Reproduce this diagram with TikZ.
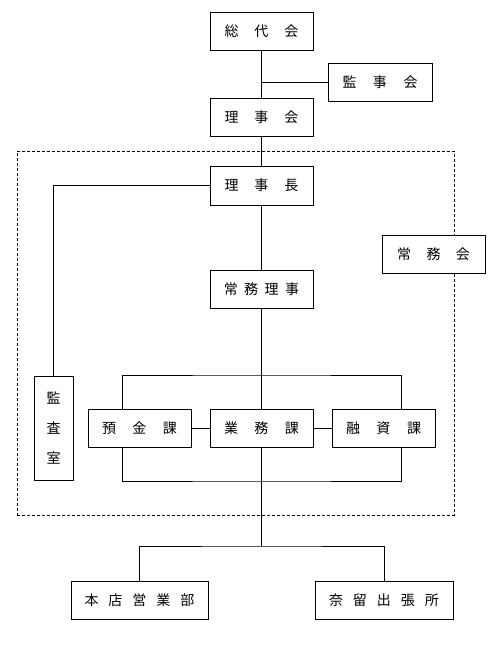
\documentclass[tikz,border=0pt]{standalone}
\usepackage{fontspec}
\setmainfont{Noto Sans CJK JP}
\newcommand{\gp}[1]{\hspace{#1pt}}
\tikzset{
  box/.style={draw, line width=1pt, fill=white, minimum width=103pt, minimum height=38pt, inner sep=0pt, font=\fontsize{14}{16}\selectfont},
  area/.style={draw, line width=0.8pt, dash pattern=on 3pt off 2pt, inner sep=0pt},
  conn/.style={line width=1pt}
}
\begin{document}
\begin{tikzpicture}[x=1pt,y=-1pt]
\useasboundingbox (0,0) rectangle (502,646);
\node[area, minimum width=437pt, minimum height=364pt] (zone) at (235.5,333) {};
\node[box] (sodai) at (261.5,31) {総\gp{16}代\gp{16}会};
\node[box, minimum width=104pt] (kanjikai) at (380,82) {監\gp{16.5}事\gp{16.5}会};
\node[box] (rijikai) at (261.5,117) {理\gp{16}事\gp{16}会};
\node[box, minimum height=39pt] (richo) at (261.5,185.5) {理\gp{16}事\gp{16}長};
\node[box] (jomukai) at (433.5,254) {常\gp{15.5}務\gp{15.5}会};
\node[box] (jomuriji) at (261.5,289) {常\gp{6.5}務\gp{6.5}理\gp{6.5}事};
\node[box, minimum width=39pt, minimum height=104pt, align=center, font=\fontsize{14}{30}\selectfont] (kansa) at (53.5,428) {監\\査\\室};
\node[box] (yokin) at (139.5,428) {預\gp{16.5}金\gp{16.5}課};
\node[box] (gyomu) at (261.5,428) {業\gp{16.5}務\gp{16.5}課};
\node[box] (yushi) at (383.5,428) {融\gp{16.5}資\gp{16.5}課};
\node[box, minimum width=137pt] (honten) at (139.5,600) {本\gp{10}店\gp{10}営\gp{10}業\gp{10}部};
\node[box, minimum width=138pt] (naru) at (384,600) {奈\gp{10}留\gp{10}出\gp{10}張\gp{10}所};
\coordinate (tb) at (261.5,375);
\coordinate (bb) at (261.5,481);
\coordinate (bj) at (261.5,546);
\draw[conn] (sodai.south) -- (rijikai.north);
\draw[conn] (kanjikai.west) -- (sodai.south |- kanjikai.west);
\draw[conn] (rijikai.south) -- (richo.north);
\draw[conn] (richo.west) -| (kansa.north);
\draw[conn] (richo.south) -- (jomuriji.north);
\draw[conn] (jomuriji.south) -- (gyomu.north);
\draw[conn] ([xshift=-17.5pt]yokin.north) |- (tb) -| ([xshift=17.5pt]yushi.north);
\draw[conn] (yokin.east) -- (gyomu.west);
\draw[conn] (gyomu.east) -- (yushi.west);
\draw[conn] ([xshift=-17.5pt]yokin.south) |- (bb) -| ([xshift=17.5pt]yushi.south);
\draw[conn] (gyomu.south) -- (bj);
\draw[conn] (honten.north) |- (bj) -| (naru.north);
\end{tikzpicture}
\end{document}
